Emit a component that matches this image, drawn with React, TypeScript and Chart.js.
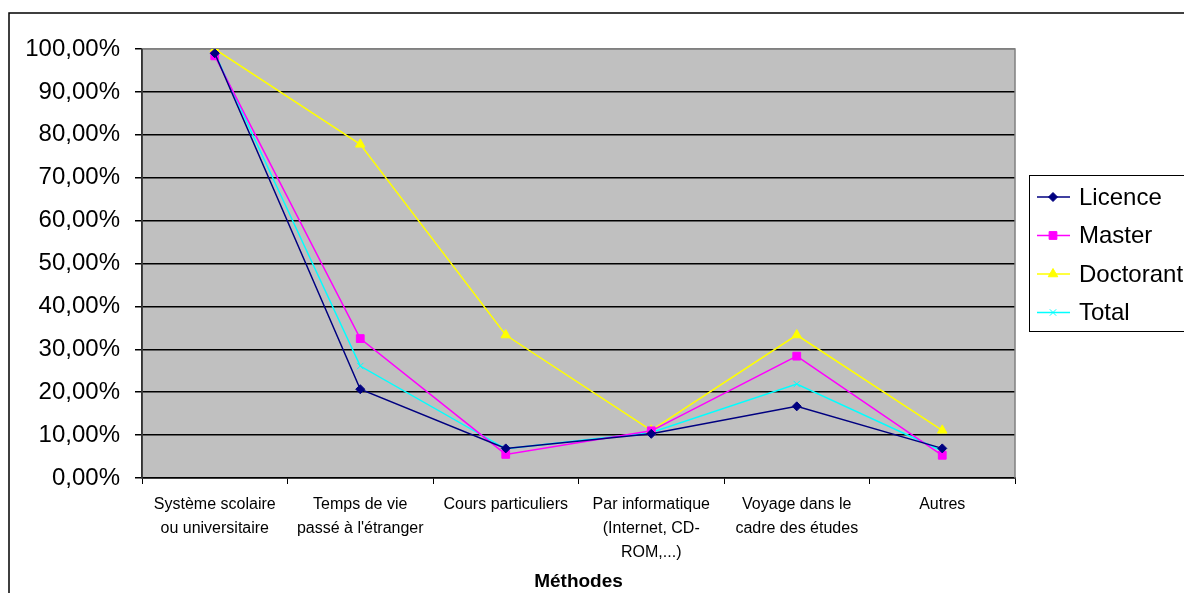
import React, { useEffect, useRef } from "react";
import { Chart, registerables } from "chart.js";
import { drawPoint } from "chart.js/helpers";

Chart.register(...registerables);

const categories: (string | string[])[] = [
  ["Système scolaire", "ou universitaire"],
  ["Temps de vie", "passé à l'étranger"],
  "Cours particuliers",
  ["Par informatique", "(Internet, CD-", "ROM,...)"],
  ["Voyage dans le", "cadre des études"],
  "Autres",
];

const licence = [99.0, 20.7, 6.9, 10.3, 16.7, 6.9];
const master = [98.4, 32.5, 5.5, 11.0, 28.4, 5.3];
const doctorant = [100, 77.78, 33.33, 11.11, 33.33, 11.11];
const total = [99.0, 26.1, 6.8, 10.6, 21.9, 6.3];

const seriesNames = ["Licence", "Master", "Doctorant", "Total"];
const axisTitle = "Méthodes";

const FONT = "'Liberation Sans', Arial, sans-serif";

const frame = {
  id: "frame",
  beforeDraw(chart: any) {
    const { ctx, chartArea: a } = chart;
    ctx.save();
    ctx.fillStyle = "#ffffff";
    ctx.fillRect(0, 0, chart.width, chart.height);
    ctx.strokeStyle = "#000000";
    ctx.lineWidth = 1.5;
    ctx.strokeRect(9, 13, chart.width + 20, chart.height + 20);
    ctx.fillStyle = "#C0C0C0";
    ctx.fillRect(a.left, a.top, a.right - a.left, a.bottom - a.top);
    ctx.restore();
  },
  beforeDatasetsDraw(chart: any) {
    const { ctx, chartArea: a } = chart;
    ctx.save();
    ctx.strokeStyle = "#808080";
    ctx.lineWidth = 1.5;
    ctx.beginPath();
    ctx.moveTo(a.left, a.top);
    ctx.lineTo(a.right, a.top);
    ctx.lineTo(a.right, a.bottom);
    ctx.stroke();
    ctx.strokeStyle = "#333333";
    ctx.beginPath();
    ctx.moveTo(a.left, a.top);
    ctx.lineTo(a.left, a.bottom);
    ctx.stroke();
    ctx.restore();
  },
  afterDraw(chart: any) {
    const { ctx } = chart;
    const bx = 1029;
    const by = 175;
    ctx.save();
    ctx.fillStyle = "#ffffff";
    ctx.fillRect(bx, by, 200, 156);
    ctx.strokeStyle = "#000000";
    ctx.lineWidth = 1;
    ctx.strokeRect(bx + 0.5, by + 0.5, 200, 156);
    ctx.font = `24px ${FONT}`;
    ctx.textBaseline = "middle";
    ctx.textAlign = "left";
    chart.data.datasets.forEach((ds: any, i: number) => {
      const y = 197 + i * 38.5;
      ctx.strokeStyle = ds.borderColor;
      ctx.lineWidth = 1.5;
      ctx.beginPath();
      ctx.moveTo(1037, y);
      ctx.lineTo(1070, y);
      ctx.stroke();
      ctx.fillStyle = ds.pointBackgroundColor;
      ctx.strokeStyle = ds.pointBorderColor;
      ctx.lineWidth = 1;
      drawPoint(ctx, { pointStyle: ds.pointStyle, radius: ds.pointRadius, rotation: 0, borderWidth: 1 } as any, 1053, y);
      ctx.fillStyle = "#000000";
      ctx.fillText(seriesNames[i], 1079, y + 1);
    });
    ctx.restore();
  },
};

export default function App() {
  const ref = useRef<HTMLCanvasElement | null>(null);
  useEffect(() => {
    if (!ref.current) return;
    const mk = (label: string, data: number[], color: string, style: string, r: number) => ({
      label,
      data,
      borderColor: color,
      backgroundColor: color,
      pointBackgroundColor: color,
      pointBorderColor: color,
      pointStyle: style,
      pointRadius: r,
      pointBorderWidth: 1,
      borderWidth: 1.5,
      tension: 0,
    });
    const chart = new Chart(ref.current, {
      type: "line",
      data: {
        labels: categories,
        datasets: [
          mk(seriesNames[0], licence, "#000080", "rectRot", 4.5),
          mk(seriesNames[1], master, "#FF00FF", "rect", 5.5),
          mk(seriesNames[2], doctorant, "#FFFF00", "triangle", 5.5),
          mk(seriesNames[3], total, "#00FFFF", "crossRot", 4.5),
        ],
      },
      options: {
        animation: false,
        responsive: false,
        layout: { padding: { top: 49, right: 169, left: 0, bottom: 0 } },
        plugins: { legend: { display: false }, tooltip: { enabled: false } },
        scales: {
          x: {
            offset: true,
            afterFit: (s: any) => {
              s.height = 115;
            },
            grid: {
              offset: true,
              drawOnChartArea: false,
              drawTicks: true,
              tickLength: 6,
              color: "#000000",
              lineWidth: 1,
            },
            border: { color: "#000000", width: 1.5 },
            ticks: {
              autoSkip: false,
              maxRotation: 0,
              minRotation: 0,
              color: "#000000",
              padding: 9,
              font: { family: FONT, size: 16, lineHeight: 1.5 },
            },
            title: {
              display: true,
              text: axisTitle,
              color: "#000000",
              font: { family: FONT, size: 19, weight: "bold" },
              padding: { top: 0, bottom: 0 },
            },
          },
          y: {
            min: 0,
            max: 100,
            afterFit: (s: any) => {
              s.width = 142;
            },
            grid: {
              color: (c: any) => (c.tick && c.tick.value === 100 ? "#808080" : "#000000"),
              lineWidth: 1.5,
              tickLength: 7,
              tickColor: "#000000",
            },
            border: { color: "#333333", width: 1.5 },
            ticks: {
              stepSize: 10,
              color: "#000000",
              padding: 15,
              font: { family: FONT, size: 24 },
              callback: (v: any) => Number(v).toFixed(2).replace(".", ",") + "%",
            },
          },
        },
      } as any,
      plugins: [frame],
    });
    return () => chart.destroy();
  }, []);
  return (
    <div style={{ position: "fixed", left: 0, top: 0, width: 1184, height: 593, background: "#fff" }}>
      <canvas ref={ref} width={1184} height={593} style={{ width: 1184, height: 593, display: "block" }} />
    </div>
  );
}
